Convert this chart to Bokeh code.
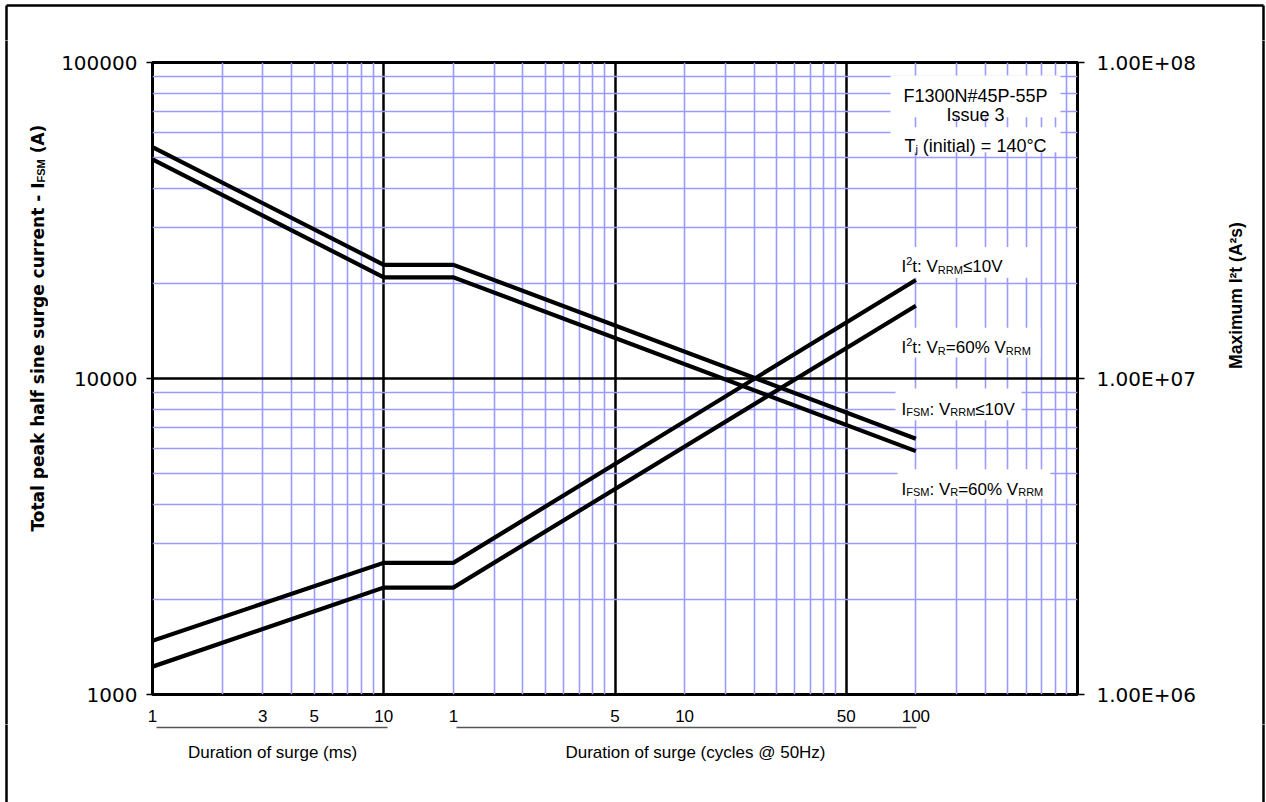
import math
from bokeh.plotting import figure
from bokeh.layouts import column, row
from bokeh.models import (Range1d, LogScale, LogAxis, FixedTicker,
                          CustomJSTickFormatter, Label, BoxAnnotation)
from bokeh.core.properties import value
from bokeh.embed import file_html
from bokeh.resources import INLINE

# ---------------- data ----------------
duration_ms = [1, 10, 20, 2000]                 # 20 ms = 1 cycle, 2000 ms = 100 cycles @ 50 Hz
ifsm_vrrm_10v = [54000, 22900, 22900, 6450]     # A
ifsm_vr_60pct = [49400, 20900, 20900, 5890]     # A
i2t_vrrm_10v = [1.48e6, 2.61e6, 2.61e6, 2.05e7]  # A^2 s
i2t_vr_60pct = [1.225e6, 2.18e6, 2.18e6, 1.70e7]  # A^2 s

x_tick_values = [1, 3, 5, 10, 20, 100, 200, 1000, 2000]
x_tick_labels = ["1", "3", "5", "10", "1", "5", "10", "50", "100"]
y_tick_values = [1000, 10000, 100000]
y2_tick_values = [1e6, 1e7, 1e8]
x_major_grid = [10, 100, 1000]
y_major_grid = [10000]

# ---------------- page geometry (pixels) ----------------
PAGE_W, PAGE_H = 1266, 802
FL, FR, FT, FB = 152, 1077, 62, 696          # plot frame on the page
TOP_H, BOT_Y = 40, 724                       # top strip height, y where bottom strip begins
LEFT_W, RIGHT_X = 48, 1212                   # left strip width, x where right strip begins
MID_H = BOT_Y - TOP_H
X_DEC = (0, 4)
Y_DEC = (3, 5)


def px2x(px):
    return 10 ** (X_DEC[0] + (X_DEC[1] - X_DEC[0]) * (px - FL) / (FR - FL))


def py2y(py):
    return 10 ** (Y_DEC[0] + (Y_DEC[1] - Y_DEC[0]) * (FB - py) / (FB - FT))


# ---------------- main chart ----------------
p = figure(width=RIGHT_X - LEFT_W, height=MID_H, x_axis_type="log", y_axis_type="log",
           x_range=Range1d(1, 10000), y_range=Range1d(1000, 100000),
           output_backend="svg", toolbar_location=None,
           min_border_left=FL - LEFT_W, min_border_right=RIGHT_X - FR,
           min_border_top=FT - TOP_H, min_border_bottom=BOT_Y - FB)
p.background_fill_color = "white"
p.border_fill_color = "white"
p.outline_line_color = "black"
p.outline_line_width = 3

p.extra_y_ranges = {"i2t": Range1d(1e6, 1e8)}
p.extra_y_scales = {"i2t": LogScale()}

minor_x = [k * 10 ** d for d in range(0, 4) for k in range(2, 10)]
minor_y = [k * 10 ** d for d in range(3, 5) for k in range(2, 10)]
BLUE = "#9a9aff"
p.xgrid.ticker = FixedTicker(ticks=x_major_grid, minor_ticks=minor_x)
p.ygrid.ticker = FixedTicker(ticks=y_major_grid, minor_ticks=minor_y)
for g in (p.xgrid[0], p.ygrid[0]):
    g.grid_line_color = "black"
    g.grid_line_width = 2.5
    g.minor_grid_line_color = BLUE
    g.minor_grid_line_width = 1.6

xa = p.xaxis[0]
xa.ticker = FixedTicker(ticks=x_tick_values, minor_ticks=[])
xa.formatter = CustomJSTickFormatter(args=dict(pos=x_tick_values, lab=x_tick_labels), code="""
let best = -1, bd = 1e9;
for (let i = 0; i < pos.length; i++) {
  const d = Math.abs(Math.log10(pos[i]) - Math.log10(tick));
  if (d < bd) { bd = d; best = i; }
}
return bd < 1e-6 ? lab[best] : "";
""")
xa.axis_line_color = None
xa.major_tick_line_color = None
xa.minor_tick_line_color = None
xa.major_label_text_font = "Liberation Sans"
xa.major_label_text_font_size = "17px"
xa.major_label_text_color = "black"
xa.major_label_standoff = 9

ya = p.yaxis[0]
ya.ticker = FixedTicker(ticks=y_tick_values, minor_ticks=[])
ya.formatter = CustomJSTickFormatter(code="return tick.toFixed(0);")
ya.axis_line_color = None
ya.major_tick_line_color = "black"
ya.major_tick_line_width = 1.5
ya.major_tick_out = 6
ya.major_tick_in = 0
ya.minor_tick_line_color = None
ya.major_label_text_font = "DejaVu Sans"
ya.major_label_text_font_size = "20px"
ya.major_label_text_color = "black"
ya.major_label_standoff = 9

ra = LogAxis(y_range_name="i2t")
ra.ticker = FixedTicker(ticks=y2_tick_values, minor_ticks=[])
ra.formatter = CustomJSTickFormatter(code=r"""
return tick.toExponential(2).toUpperCase().replace(/E([+-])(\d)$/, (m, s, d) => 'E' + s + '0' + d);
""")
ra.axis_line_color = None
ra.major_tick_line_color = "black"
ra.major_tick_line_width = 1.5
ra.major_tick_out = 7
ra.major_tick_in = 0
ra.minor_tick_line_color = None
ra.major_label_text_font = "DejaVu Sans"
ra.major_label_text_font_size = "20px"
ra.major_label_text_color = "black"
ra.major_label_standoff = 12
p.add_layout(ra, "right")

for ys in (ifsm_vrrm_10v, ifsm_vr_60pct):
    p.line(duration_ms, ys, line_color="black", line_width=4.2, line_join="miter")
for ys in (i2t_vrrm_10v, i2t_vr_60pct):
    p.line(duration_ms, ys, line_color="black", line_width=4.2, line_join="miter",
           y_range_name="i2t")

# ---------------- text helpers ----------------
AW = {' ': 278, '#': 556, '%': 889, '(': 333, ')': 333, '+': 584, '-': 333, '.': 278,
      ':': 278, '=': 584, '@': 1015, '°': 400, '≤': 549, '²': 333,
      'A': 667, 'C': 722, 'D': 722, 'E': 667, 'F': 611, 'H': 722, 'I': 278, 'M': 833,
      'N': 722, 'P': 667, 'R': 722, 'S': 667, 'T': 611, 'V': 667,
      'a': 556, 'c': 500, 'e': 556, 'g': 556, 'i': 222, 'j': 222, 'l': 222, 'm': 833,
      'n': 556, 'o': 556, 'r': 333, 's': 500, 't': 278, 'u': 556, 'y': 500, 'z': 500}
for ch in "0123456789":
    AW[ch] = 556


def tw(s, fs):
    return sum(AW.get(c, 556) for c in s) * fs / 1000.0


def box(l, r, t, b):
    p.add_layout(BoxAnnotation(left=px2x(l), right=px2x(r), top=py2y(t), bottom=py2y(b),
                               fill_color="white", fill_alpha=1.0,
                               line_color="white", line_alpha=0.0))


def rich(segs, x_px, base_py, align="left", size=17, small=11):
    items = []
    for t, k in segs:
        fs = size if k == "n" else small
        items.append((t, k, fs, tw(t, fs)))
    total = sum(i[3] for i in items)
    start = x_px if align == "left" else x_px - total / 2.0
    off = 0.0
    for t, k, fs, w in items:
        lead = len(t) - len(t.lstrip(" "))
        s = t.strip(" ")
        dy = {"n": 0, "sub": -3, "sup": 6}[k]
        if s:
            p.add_layout(Label(x=px2x(start), y=py2y(base_py),
                               x_offset=off + lead * AW[' '] * fs / 1000.0, y_offset=dy,
                               text=s, text_font="Liberation Sans", text_font_size=f"{fs}px",
                               text_align="left", text_baseline="alphabetic",
                               text_color="black"))
        off += w


# info box
box(890, 1060, 75, 117)
box(890, 1060, 127, 152)
rich([("F1300N#45P-55P", "n")], 975, 96, align="center", size=18)
rich([("Issue 3", "n")], 975, 115, align="center", size=18)
rich([("T", "n"), ("j", "sub"), (" (initial) = 140°C", "n")], 975, 146, align="center", size=18)

# curve labels
box(893, 1035, 247, 278)
rich([("I", "n"), ("2", "sup"), ("t: V", "n"), ("RRM", "sub"), ("≤10V", "n")], 901, 267)
box(893, 1040, 328, 358)
rich([("I", "n"), ("2", "sup"), ("t: V", "n"), ("R", "sub"), ("=60% V", "n"), ("RRM", "sub")], 901, 348)
box(895, 1021, 389, 421)
rich([("I", "n"), ("FSM", "sub"), (": V", "n"), ("RRM", "sub"), ("≤10V", "n")], 901, 410)
box(897, 1050, 470, 500)
rich([("I", "n"), ("FSM", "sub"), (": V", "n"), ("R", "sub"), ("=60% V", "n"), ("RRM", "sub")], 901, 490)


# ---------------- surrounding strips (titles, captions, page frame) ----------------
class Strip:
    def __init__(self, x0, y0, w, h):
        self.x0, self.y0, self.w, self.h = x0, y0, w, h
        f = figure(width=w, height=h, x_range=Range1d(0, w), y_range=Range1d(0, h),
                   output_backend="svg", toolbar_location=None,
                   x_axis_location=None, y_axis_location=None, min_border=0)
        f.xgrid.visible = False
        f.ygrid.visible = False
        f.outline_line_color = None
        f.background_fill_color = "white"
        f.border_fill_color = "white"
        self.f = f

    def X(self, px):
        return px - self.x0

    def Y(self, py):
        return self.h - (py - self.y0)

    def seg(self, x0, y0, x1, y1, color="black", width=2.5):
        self.f.segment(x0=[self.X(x0)], y0=[self.Y(y0)], x1=[self.X(x1)], y1=[self.Y(y1)],
                       line_color=color, line_width=width)

    def text(self, px, py, txt, font="Liberation Sans", size="17px", style="normal",
             align="left", angle=0.0, xo=0.0, yo=0.0):
        self.f.text(x=[self.X(px)], y=[self.Y(py)], text=[txt], angle=angle,
                    text_font=value(font), text_font_size=value(size),
                    text_font_style=style, text_align=align, text_baseline="alphabetic",
                    text_color="black", x_offset=xo, y_offset=yo)


PX_L, PX_R, PY_T = 6, 1263, 5   # outer page frame

top = Strip(0, 0, PAGE_W, TOP_H)
top.seg(PX_L, PY_T, PX_R, PY_T)
top.seg(PX_L, PY_T, PX_L, TOP_H + 3)
top.seg(PX_R, PY_T, PX_R, TOP_H + 3)

left = Strip(0, TOP_H, LEFT_W, MID_H)
left.seg(PX_L, TOP_H - 3, PX_L, BOT_Y + 3)
LX, LY = 37, 182
TITLE_FS, SUB_FS = 17, 11
sub_w = (611 + 667 + 833) * SUB_FS / 1000.0
left.text(LX, LY, "Total peak half sine surge current - I", font="DejaVu Sans",
          size=f"{TITLE_FS}px", style="bold", align="right", angle=math.pi / 2)
left.text(LX, LY, "FSM", font="Liberation Sans", size=f"{SUB_FS}px", style="bold",
          angle=math.pi / 2, xo=3)
left.text(LX, LY - sub_w - 0.348 * TITLE_FS, "(A)", font="DejaVu Sans", size=f"{TITLE_FS}px",
          style="bold", angle=math.pi / 2)

right = Strip(RIGHT_X, TOP_H, PAGE_W - RIGHT_X, MID_H)
right.seg(PX_R, TOP_H - 3, PX_R, BOT_Y + 3)
right.text(1235, 295, "Maximum I²t (A²s)", size="17.5px", style="bold", align="center",
           angle=math.pi / 2)

bottom = Strip(0, BOT_Y, PAGE_W, PAGE_H - BOT_Y)
bottom.seg(PX_L, BOT_Y - 3, PX_L, PAGE_H + 5)
bottom.seg(PX_R, BOT_Y - 3, PX_R, PAGE_H + 5)
bottom.seg(156, 727, 387, 727, color="#555555", width=1.6)
bottom.seg(456, 727, 916, 727, color="#555555", width=1.6)
bottom.text(272, 752, "Duration of surge (ms)", align="center")
bottom.text(695, 752, "Duration of surge (cycles @ 50Hz)", align="center")

# the chart sits alone in its own column so that the side strips keep full-height frames
layout = column(top.f, row(left.f, column(p, spacing=0), right.f, spacing=0), bottom.f,
                spacing=0)

open("out.html", "w").write(file_html(layout, INLINE))
